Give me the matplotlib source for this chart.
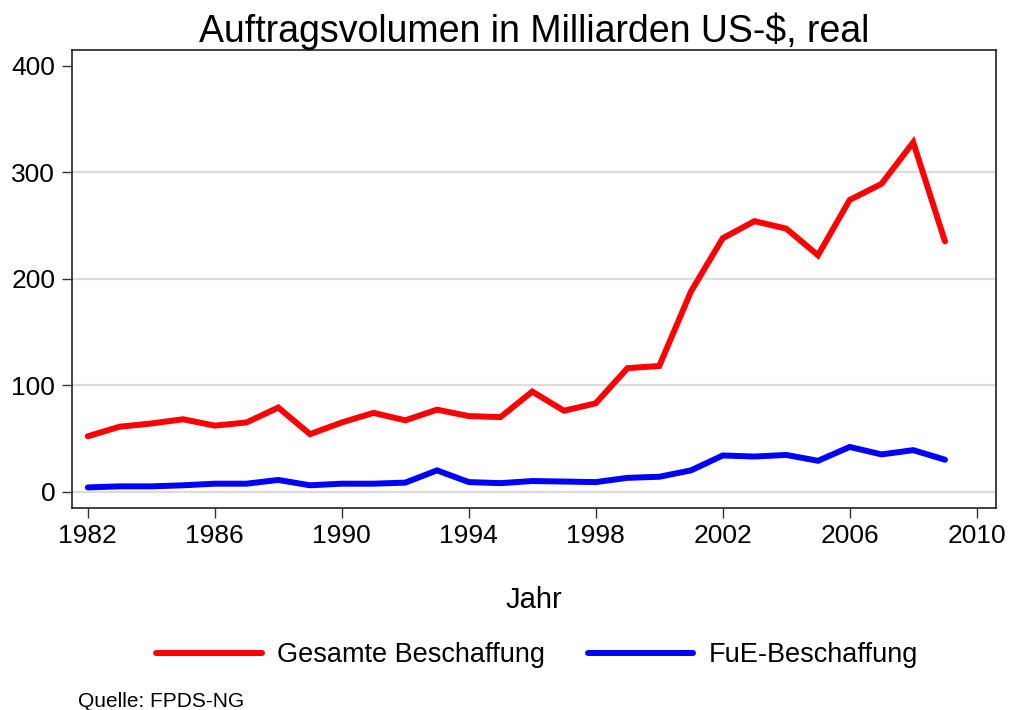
import matplotlib
matplotlib.use("Agg")
from matplotlib import pyplot as plt

plt.rcParams['font.family'] = ['Liberation Sans', 'DejaVu Sans']

years = list(range(1982, 2010))
gesamt = [52, 61, 64, 68, 62, 65, 79, 54, 65, 74, 67, 77, 71, 70, 94, 76, 83,
          116, 118, 188, 238, 254, 247, 222, 274, 289, 328, 235]
fue = [4, 5, 5, 6, 7.5, 7.5, 11, 6, 7.5, 7.5, 8.5, 20, 9, 8, 10, 9.5, 9,
       13, 14, 20, 34, 33, 34.5, 29, 42, 35, 39, 30]

xticks = [1982, 1986, 1990, 1994, 1998, 2002, 2006, 2010]
yticks = [0, 100, 200, 300, 400]

fig = plt.figure(figsize=(10.13, 7.1), dpi=100)
ax = fig.add_axes([0.071, 0.285, 0.912, 0.645])

# grid lines (not at top limit)
for yv in yticks[:-1]:
    ax.axhline(yv, color="#dcdcdc", lw=1.6, zorder=0)

ax.plot(years, gesamt, color="red", lw=4.3, label="Gesamte Beschaffung",
        solid_capstyle="round", solid_joinstyle="miter")
ax.plot(years, fue, color="blue", lw=4.3, label="FuE-Beschaffung",
        solid_capstyle="round", solid_joinstyle="miter")

ax.set_xlim(1981.5, 2010.6)
ax.set_ylim(-15, 415)
ax.set_xticks(xticks)
ax.set_yticks(yticks)
ax.tick_params(labelsize=19, length=7, width=1, direction="out", color="#333333", pad=5)
for s in ax.spines.values():
    s.set_linewidth(1.2)
    s.set_color("#222222")

ax.set_title("Auftragsvolumen in Milliarden US-$, real", fontsize=27, pad=5)
ax.set_xlabel("Jahr", fontsize=21, labelpad=27)

fig.legend(loc="center", bbox_to_anchor=(0.530, 0.077), ncol=2, frameon=False,
           fontsize=19.5, handlelength=3.9, columnspacing=1.6, handletextpad=0.55)

fig.text(0.077, 0.004, "Quelle: FPDS-NG", fontsize=15)

fig.savefig("out.png", dpi=100)
